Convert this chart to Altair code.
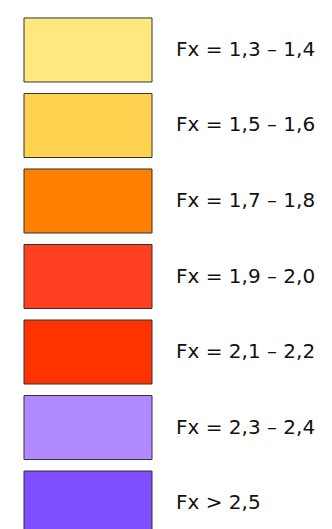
import altair as alt
import pandas as pd

labels = ["Fx = 1,3 – 1,4", "Fx = 1,5 – 1,6", "Fx = 1,7 – 1,8", "Fx = 1,9 – 2,0",
          "Fx = 2,1 – 2,2", "Fx = 2,3 – 2,4", "Fx > 2,5"]
colors = ["#FFE97F", "#FFD34F", "#FF7F00", "#FF3F1F", "#FF3300", "#B088FF", "#7F4FFF"]

df = pd.DataFrame({"label": labels, "color": colors})

y = alt.Y("label:N", sort=labels, axis=None,
          scale=alt.Scale(paddingInner=0.152, paddingOuter=0.132))

rects = alt.Chart(df).mark_rect(stroke="#333333", strokeWidth=1).encode(
    y=y,
    x=alt.value(16), x2=alt.value(144),
    color=alt.Color("color:N", scale=None, legend=None),
)

texts = alt.Chart(df).mark_text(align="left", baseline="middle", font="DejaVu Sans",
                                fontSize=20, color="#111111").encode(
    y=y,
    x=alt.value(168),
    text="label:N",
)

chart = (rects + texts).properties(width=316, height=537, padding=0).configure_view(stroke=None)
chart.save("out.html", embed_options={"renderer": "svg", "actions": False})
